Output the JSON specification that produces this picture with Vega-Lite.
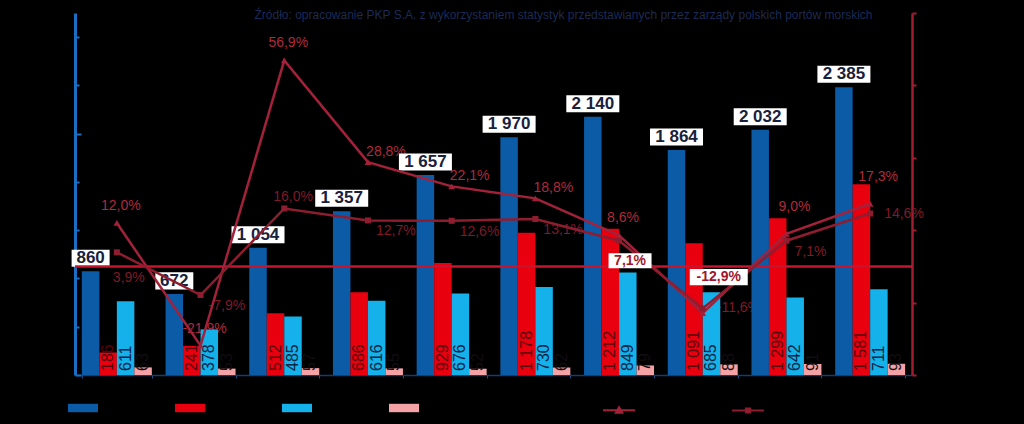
{
  "$schema": "https://vega.github.io/schema/vega-lite/v6.json",
  "width": 837,
  "height": 362,
  "autosize": {"type": "none"},
  "padding": {"left": 75, "top": 13, "right": 112, "bottom": 49},
  "background": "#000000",
  "config": {
    "view": {"stroke": null},
    "font": "Liberation Sans",
    "locale": {"number": {"decimal": ",", "thousands": " ", "grouping": [3], "currency": ["", " zł"], "minus": "-"}},
    "axis": {"grid": false},
    "axisX": {"labels": false, "title": null, "domainColor": "#0f3f70", "domainWidth": 1.5, "tickColor": "#1c5080", "tickSize": 3, "tickBand": "extent", "grid": false}
  },
  "title": {
    "text": "Źródło:  opracowanie  PKP S.A.  z wykorzystaniem  statystyk  przedstawianych  przez  zarządy  polskich  portów  morskich",
    "color": "#1c2b55",
    "fontSize": 12,
    "fontWeight": "normal",
    "font": "Liberation Sans",
    "anchor": "middle",
    "dx": 70,
    "offset": -10
  },
  "datasets": {
    "bars": [
      {"year": "2008", "series": "Ogółem", "value": 860},
      {"year": "2008", "series": "Gdańsk", "value": 186},
      {"year": "2008", "series": "Gdynia", "value": 611},
      {"year": "2008", "series": "Szczecin-Świnoujście", "value": 63},
      {"year": "2009", "series": "Ogółem", "value": 672},
      {"year": "2009", "series": "Gdańsk", "value": 241},
      {"year": "2009", "series": "Gdynia", "value": 378},
      {"year": "2009", "series": "Szczecin-Świnoujście", "value": 53},
      {"year": "2010", "series": "Ogółem", "value": 1054},
      {"year": "2010", "series": "Gdańsk", "value": 512},
      {"year": "2010", "series": "Gdynia", "value": 485},
      {"year": "2010", "series": "Szczecin-Świnoujście", "value": 57},
      {"year": "2011", "series": "Ogółem", "value": 1357},
      {"year": "2011", "series": "Gdańsk", "value": 686},
      {"year": "2011", "series": "Gdynia", "value": 616},
      {"year": "2011", "series": "Szczecin-Świnoujście", "value": 55},
      {"year": "2012", "series": "Ogółem", "value": 1657},
      {"year": "2012", "series": "Gdańsk", "value": 929},
      {"year": "2012", "series": "Gdynia", "value": 676},
      {"year": "2012", "series": "Szczecin-Świnoujście", "value": 52},
      {"year": "2013", "series": "Ogółem", "value": 1970},
      {"year": "2013", "series": "Gdańsk", "value": 1178},
      {"year": "2013", "series": "Gdynia", "value": 730},
      {"year": "2013", "series": "Szczecin-Świnoujście", "value": 62},
      {"year": "2014", "series": "Ogółem", "value": 2140},
      {"year": "2014", "series": "Gdańsk", "value": 1212},
      {"year": "2014", "series": "Gdynia", "value": 849},
      {"year": "2014", "series": "Szczecin-Świnoujście", "value": 79},
      {"year": "2015", "series": "Ogółem", "value": 1864},
      {"year": "2015", "series": "Gdańsk", "value": 1091},
      {"year": "2015", "series": "Gdynia", "value": 685},
      {"year": "2015", "series": "Szczecin-Świnoujście", "value": 88},
      {"year": "2016", "series": "Ogółem", "value": 2032},
      {"year": "2016", "series": "Gdańsk", "value": 1299},
      {"year": "2016", "series": "Gdynia", "value": 642},
      {"year": "2016", "series": "Szczecin-Świnoujście", "value": 91},
      {"year": "2017", "series": "Ogółem", "value": 2385},
      {"year": "2017", "series": "Gdańsk", "value": 1581},
      {"year": "2017", "series": "Gdynia", "value": 711},
      {"year": "2017", "series": "Szczecin-Świnoujście", "value": 93}
    ],
    "lines": [
      {"year": "2008", "series": "Dynamika r/r – polskie porty", "value": 0.120},
      {"year": "2009", "series": "Dynamika r/r – polskie porty", "value": -0.219},
      {"year": "2010", "series": "Dynamika r/r – polskie porty", "value": 0.569},
      {"year": "2011", "series": "Dynamika r/r – polskie porty", "value": 0.288},
      {"year": "2012", "series": "Dynamika r/r – polskie porty", "value": 0.221},
      {"year": "2013", "series": "Dynamika r/r – polskie porty", "value": 0.188},
      {"year": "2014", "series": "Dynamika r/r – polskie porty", "value": 0.086},
      {"year": "2015", "series": "Dynamika r/r – polskie porty", "value": -0.129},
      {"year": "2016", "series": "Dynamika r/r – polskie porty", "value": 0.090},
      {"year": "2017", "series": "Dynamika r/r – polskie porty", "value": 0.173},
      {"year": "2008", "series": "Dynamika r/r – porty bałtyckie", "value": 0.039},
      {"year": "2009", "series": "Dynamika r/r – porty bałtyckie", "value": -0.079},
      {"year": "2010", "series": "Dynamika r/r – porty bałtyckie", "value": 0.160},
      {"year": "2011", "series": "Dynamika r/r – porty bałtyckie", "value": 0.127},
      {"year": "2012", "series": "Dynamika r/r – porty bałtyckie", "value": 0.126},
      {"year": "2013", "series": "Dynamika r/r – porty bałtyckie", "value": 0.131},
      {"year": "2014", "series": "Dynamika r/r – porty bałtyckie", "value": 0.071},
      {"year": "2015", "series": "Dynamika r/r – porty bałtyckie", "value": -0.116},
      {"year": "2016", "series": "Dynamika r/r – porty bałtyckie", "value": 0.071},
      {"year": "2017", "series": "Dynamika r/r – porty bałtyckie", "value": 0.146}
    ]
  },
  "layer": [
    {
      "data": {"name": "lines"},
      "encoding": {
        "x": {"field": "year", "type": "nominal", "title": null, "scale": {"type": "band", "paddingInner": 0.164, "paddingOuter": 0.082}},
        "y": {"field": "value", "type": "quantitative", "title": null, "scale": {"domain": [-0.3, 0.7], "nice": false, "zero": false}, "axis": null},
        "text": {"field": "value", "type": "quantitative", "format": ".1%"}
      },
      "layer": [
        {
          "transform": [{"filter": "datum.series === 'Dynamika r/r – polskie porty' && indexof(['2008','2009','2010','2014'], datum.year) >= 0"}],
          "mark": {"type": "text", "align": "center", "baseline": "bottom", "dx": 4, "dy": -10, "fontSize": 14, "color": "#b02a3c"}
        },
        {
          "transform": [{"filter": "datum.series === 'Dynamika r/r – polskie porty' && indexof(['2016','2017'], datum.year) >= 0"}],
          "mark": {"type": "text", "align": "center", "baseline": "bottom", "dx": 8, "dy": -20, "fontSize": 14, "color": "#b02a3c"}
        },
        {
          "transform": [{"filter": "datum.series === 'Dynamika r/r – polskie porty' && indexof(['2011','2012','2013'], datum.year) >= 0"}],
          "mark": {"type": "text", "align": "center", "baseline": "bottom", "dx": 18, "dy": -3, "fontSize": 14, "color": "#b02a3c"}
        },
        {
          "transform": [{"filter": "datum.series === 'Dynamika r/r – porty bałtyckie' && indexof(['2009','2011','2012','2013','2016'], datum.year) >= 0"}],
          "mark": {"type": "text", "align": "left", "baseline": "middle", "dx": 8, "dy": 11, "fontSize": 14, "color": "#7f1a2a"}
        },
        {
          "transform": [{"filter": "datum.series === 'Dynamika r/r – porty bałtyckie' && indexof(['2015','2017'], datum.year) >= 0"}],
          "mark": {"type": "text", "align": "left", "baseline": "middle", "dx": 14, "dy": 0, "fontSize": 14, "color": "#7f1a2a"}
        },
        {
          "transform": [{"filter": "datum.series === 'Dynamika r/r – porty bałtyckie' && datum.year === '2010'"}],
          "mark": {"type": "text", "align": "left", "baseline": "middle", "dx": -11, "dy": -11, "fontSize": 14, "color": "#7f1a2a"}
        },
        {
          "transform": [{"filter": "datum.series === 'Dynamika r/r – porty bałtyckie' && datum.year === '2008'"}],
          "mark": {"type": "text", "align": "left", "baseline": "middle", "dx": -4, "dy": 26, "fontSize": 14, "color": "#7f1a2a"}
        }
      ]
    },
    {
      "data": {"name": "bars"},
      "layer": [
        {
          "mark": {"type": "bar"},
          "encoding": {
            "x": {"field": "year", "type": "nominal", "title": null, "scale": {"type": "band", "paddingInner": 0.164, "paddingOuter": 0.082}},
            "xOffset": {"field": "series", "type": "nominal", "scale": {"domain": ["Ogółem", "Gdańsk", "Gdynia", "Szczecin-Świnoujście"], "paddingInner": 0, "paddingOuter": 0}},
            "y": {
              "field": "value", "type": "quantitative", "title": null,
              "scale": {"domain": [0, 3000], "nice": false},
              "axis": {
                "orient": "left",
                "values": [0,100,200,300,400,500,600,700,800,900,1000,1100,1200,1300,1400,1500,1600,1700,1800,1900,2000,2100,2200,2300,2400,2500,2600,2700,2800,2900,3000],
                "labels": false, "title": null, "grid": false,
                "domainColor": "#1b6fc2", "domainWidth": 3,
                "tickColor": "#1b6fc2", "tickWidth": 2,
                "tickSize": {"condition": {"test": "datum.value % 500 === 0", "value": -6}, "value": -4}
              }
            },
            "fill": {
              "field": "series", "type": "nominal",
              "scale": {"domain": ["Ogółem", "Gdańsk", "Gdynia", "Szczecin-Świnoujście"], "range": ["#0b5ba6", "#e8000f", "#14b1ea", "#f4a2a5"]},
              "legend": {
                "orient": "none", "legendX": -7, "legendY": 380, "direction": "horizontal",
                "title": null, "labelExpr": "''", "labelOffset": 0, "padding": 0,
                "symbolType": "M-1,-0.28H1V0.28H-1Z", "symbolSize": 900, "symbolStrokeWidth": 0,
                "columnPadding": 77
              }
            }
          }
        },
        {
          "transform": [{"filter": "datum.series !== 'Ogółem'"}],
          "mark": {"type": "text", "angle": 270, "align": "left", "baseline": "middle", "dx": 4, "font": "Liberation Sans Narrow, Arial Narrow, Liberation Sans", "fontSize": 16},
          "encoding": {
            "x": {"field": "year", "type": "nominal", "title": null, "scale": {"type": "band", "paddingInner": 0.164, "paddingOuter": 0.082}},
            "xOffset": {"field": "series", "type": "nominal"},
            "y": {"datum": 0, "type": "quantitative"},
            "text": {"field": "value", "type": "quantitative", "format": ",d"},
            "color": {
              "condition": [
                {"test": "datum.series === 'Gdańsk'", "value": "#5a000c"},
                {"test": "datum.series === 'Szczecin-Świnoujście'", "value": "#120c10"}
              ],
              "value": "#0a2446"
            }
          }
        },
        {
          "transform": [{"filter": "datum.series === 'Ogółem'"}],
          "mark": {"type": "point", "filled": true, "opacity": 1, "color": "#ffffff", "strokeWidth": 0, "yOffset": -13},
          "encoding": {
            "x": {"field": "year", "type": "nominal", "title": null, "scale": {"type": "band", "paddingInner": 0.164, "paddingOuter": 0.082}},
            "xOffset": {"field": "series", "type": "nominal"},
            "y": {"field": "value", "type": "quantitative", "title": null},
            "shape": {"condition": {"test": "datum.value >= 1000", "value": "M-1,-0.32H1V0.32H-1Z"}, "value": "M-1,-0.45H1V0.45H-1Z"},
            "size": {"condition": {"test": "datum.value >= 1000", "value": 2809}, "value": 1444}
          }
        },
        {
          "transform": [{"filter": "datum.series === 'Ogółem'"}],
          "mark": {"type": "text", "fontWeight": "bold", "fontSize": 17, "color": "#18213c", "dy": -13, "baseline": "middle", "align": "center"},
          "encoding": {
            "x": {"field": "year", "type": "nominal", "title": null, "scale": {"type": "band", "paddingInner": 0.164, "paddingOuter": 0.082}},
            "xOffset": {"field": "series", "type": "nominal"},
            "y": {"field": "value", "type": "quantitative", "title": null},
            "text": {"field": "value", "type": "quantitative", "format": ",d"}
          }
        }
      ]
    },
    {
      "layer": [
        {
          "data": {"values": [{}]},
          "mark": {"type": "rule", "color": "#c8152d", "strokeWidth": 2.5},
          "encoding": {
            "y": {
              "datum": 0, "type": "quantitative", "title": null,
              "scale": {"domain": [-0.3, 0.7], "nice": false, "zero": false},
              "axis": {
                "orient": "right",
                "values": [-0.3, -0.2, -0.1, 0, 0.1, 0.2, 0.3, 0.4, 0.5, 0.6, 0.7],
                "labels": false, "title": null, "grid": false,
                "domainColor": "#a11d31", "domainWidth": 2.5,
                "tickColor": "#a11d31", "tickWidth": 2, "tickSize": 4
              }
            }
          }
        },
        {
          "data": {"name": "lines"},
          "mark": {"type": "line", "strokeWidth": 2.5},
          "encoding": {
            "x": {"field": "year", "type": "nominal", "title": null, "scale": {"type": "band", "paddingInner": 0.164, "paddingOuter": 0.082}},
            "y": {"field": "value", "type": "quantitative", "title": null},
            "stroke": {
              "field": "series", "type": "nominal",
              "scale": {"domain": ["Dynamika r/r – polskie porty", "Dynamika r/r – porty bałtyckie"], "range": ["#a3213a", "#8f1d30"]},
              "legend": {
                "orient": "none", "legendX": 527, "legendY": 380, "direction": "horizontal",
                "title": null, "labelExpr": "''", "labelOffset": 0, "padding": 0,
                "symbolType": "M-1,0H1M-0.2,0.16L0,-0.18L0.2,0.16Z", "symbolSize": 1024, "symbolStrokeWidth": 2,
                "symbolFillColor": "#a3213a",
                "columnPadding": 89,
                "encode": {
                  "symbols": {
                    "update": {
                      "shape": {"signal": "datum.value === 'Dynamika r/r – polskie porty' ? 'M-1,0H1M-0.2,0.16L0,-0.18L0.2,0.16Z' : 'M-1,0H1M-0.13,-0.13H0.13V0.13H-0.13Z'"}
                    }
                  }
                }
              }
            }
          }
        },
        {
          "data": {"name": "lines"},
          "transform": [{"filter": "datum.series === 'Dynamika r/r – polskie porty'"}],
          "mark": {"type": "point", "filled": true, "opacity": 1, "shape": "triangle-up", "size": 45, "color": "#a3213a"},
          "encoding": {
            "x": {"field": "year", "type": "nominal", "title": null, "scale": {"type": "band", "paddingInner": 0.164, "paddingOuter": 0.082}},
            "y": {"field": "value", "type": "quantitative", "title": null}
          }
        },
        {
          "data": {"name": "lines"},
          "transform": [{"filter": "datum.series === 'Dynamika r/r – porty bałtyckie'"}],
          "mark": {"type": "point", "filled": true, "opacity": 1, "shape": "square", "size": 36, "color": "#8f1d30"},
          "encoding": {
            "x": {"field": "year", "type": "nominal", "title": null, "scale": {"type": "band", "paddingInner": 0.164, "paddingOuter": 0.082}},
            "y": {"field": "value", "type": "quantitative", "title": null}
          }
        },
        {
          "data": {"name": "lines"},
          "transform": [{"filter": "datum.series === 'Dynamika r/r – polskie porty' && datum.year === '2015'"}],
          "mark": {"type": "point", "filled": true, "opacity": 1, "color": "#ffffff", "strokeWidth": 0, "xOffset": 16, "yOffset": -36, "shape": "M-1,-0.28H1V0.28H-1Z", "size": 3364},
          "encoding": {
            "x": {"field": "year", "type": "nominal", "title": null, "scale": {"type": "band", "paddingInner": 0.164, "paddingOuter": 0.082}},
            "y": {"field": "value", "type": "quantitative", "title": null}
          }
        },
        {
          "data": {"name": "lines"},
          "transform": [{"filter": "datum.series === 'Dynamika r/r – polskie porty' && datum.year === '2015'"}],
          "mark": {"type": "text", "fontWeight": "bold", "fontSize": 14, "color": "#a0172c", "dx": 16, "dy": -36, "baseline": "middle", "align": "center"},
          "encoding": {
            "x": {"field": "year", "type": "nominal", "title": null, "scale": {"type": "band", "paddingInner": 0.164, "paddingOuter": 0.082}},
            "y": {"field": "value", "type": "quantitative", "title": null},
            "text": {"field": "value", "type": "quantitative", "format": ".1%"}
          }
        },
        {
          "data": {"name": "lines"},
          "transform": [{"filter": "datum.series === 'Dynamika r/r – porty bałtyckie' && datum.year === '2014'"}],
          "mark": {"type": "point", "filled": true, "opacity": 1, "color": "#ffffff", "strokeWidth": 0, "xOffset": 11, "yOffset": 20, "shape": "M-1,-0.35H1V0.35H-1Z", "size": 1849},
          "encoding": {
            "x": {"field": "year", "type": "nominal", "title": null, "scale": {"type": "band", "paddingInner": 0.164, "paddingOuter": 0.082}},
            "y": {"field": "value", "type": "quantitative", "title": null}
          }
        },
        {
          "data": {"name": "lines"},
          "transform": [{"filter": "datum.series === 'Dynamika r/r – porty bałtyckie' && datum.year === '2014'"}],
          "mark": {"type": "text", "fontWeight": "bold", "fontSize": 14, "color": "#a0172c", "dx": 11, "dy": 20, "baseline": "middle", "align": "center"},
          "encoding": {
            "x": {"field": "year", "type": "nominal", "title": null, "scale": {"type": "band", "paddingInner": 0.164, "paddingOuter": 0.082}},
            "y": {"field": "value", "type": "quantitative", "title": null},
            "text": {"field": "value", "type": "quantitative", "format": ".1%"}
          }
        }
      ]
    }
  ],
  "resolve": {"scale": {"y": "independent"}, "axis": {"y": "independent"}}
}
